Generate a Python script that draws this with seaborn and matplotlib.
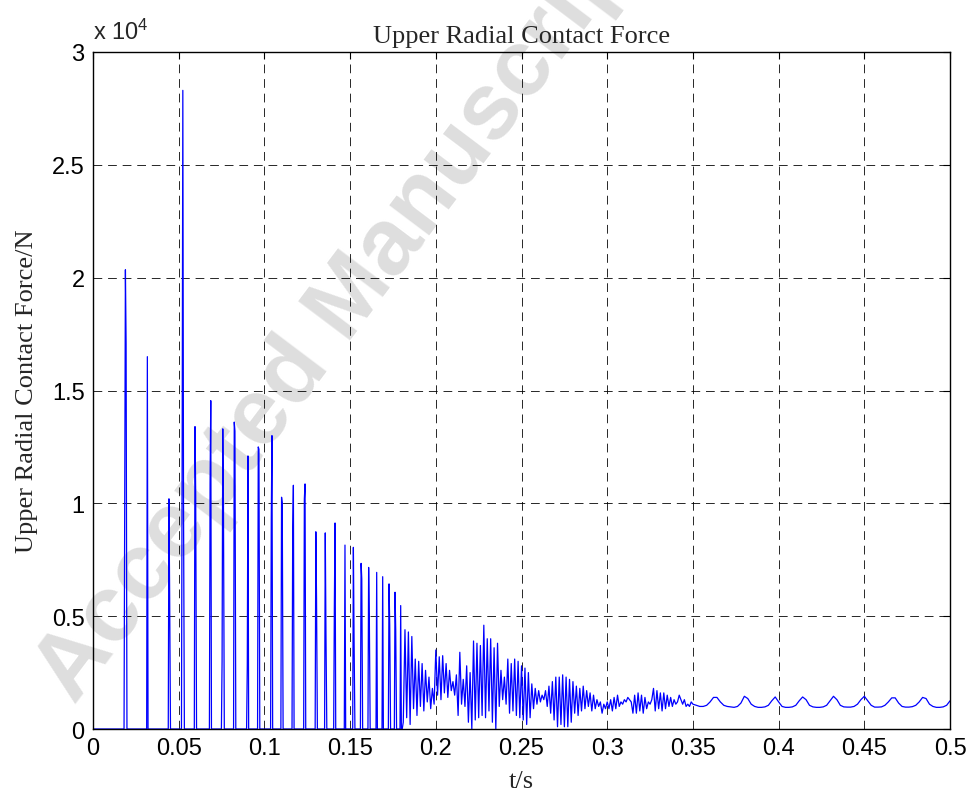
import numpy as np
import pandas as pd
import matplotlib
matplotlib.use("Agg")
import matplotlib.pyplot as plt
import seaborn as sns

# --- isolated contact pulses (t in s, force in N) ---
pulse_t = [0.0189, 0.0317, 0.0443, 0.0524, 0.0595, 0.0687, 0.0757, 0.0824,
           0.0904, 0.0964, 0.1044, 0.1100, 0.1169, 0.1237, 0.1300, 0.1355,
           0.1412, 0.1470, 0.1519, 0.1564, 0.1608, 0.1655, 0.1690, 0.1727,
           0.1762, 0.1795]
pulse_peak = [20350, 16500, 10200, 28300, 13400, 14550, 13300, 13600,
              12100, 12500, 13000, 10270, 10800, 10860, 8740, 8690,
              9130, 8150, 8050, 7340, 7160, 6940, 6750, 6430,
              6060, 5470]
pulse_rise = [10400, 0, 0, 12100, 0, 10900, 3000, 0,
              2800, 0, 9300, 0, 8800, 10200, 0, 0,
              5400, 0, 0, 0, 0, 0, 0, 0,
              0, 0]
pulse_fall = [17100, 0, 6000, 10000, 10400, 0, 9900, 13200,
              0, 12400, 0, 10000, 0, 0, 5800, 4300,
              0, 0, 4000, 6650, 5000, 0, 0, 4600,
              4400, 0]

# --- dense oscillation 0.181 s .. 0.300 s (1 ms samples), N ---
osc_F = [300, 4400, 500, 4300, 200, 4100, 900, 3100, 600, 3000,
         1000, 2900, 800, 2600, 1200, 2300, 900, 1800, 1100, 3500,
         1500, 3200, 1300, 3250, 1600, 2900, 1400, 2600, 1700, 2100,
         1500, 2400, 600, 3400, 1100, 2200, 1000, 2800, 300, 2500,
         0, 3900, 400, 3800, 500, 3700, 600, 4600, 500, 4000,
         800, 4000, 300, 3600, 0, 3800, 1000, 2600, 1300, 2300,
         1100, 3100, 700, 2900, 800, 3100, 600, 3000, 500, 2800,
         400, 2700, 200, 2500, 500, 2000, 900, 1800, 1100, 1700,
         1200, 1500, 1300, 1700, 1000, 1900, 700, 2100, 400, 2300,
         100, 2300, 200, 2400, 100, 2300, 100, 2200, 300, 2100,
         700, 1900, 600, 1800, 800, 1900, 900, 1700, 1000, 1600,
         800, 1500, 900, 1300, 1000, 1200, 700, 1100, 900, 1200]

# --- settling 0.301 s .. 0.350 s (1 ms samples), N ---
settle_F = [900, 1300, 800, 1400, 900, 1500, 1000, 1200, 1100, 1300,
            1200, 1400, 1300, 1200, 700, 1500, 700, 1600, 800, 1500,
            700, 1400, 900, 1200, 1100, 1300, 1800, 800, 1700, 900,
            1600, 800, 1600, 900, 1500, 1000, 1400, 1000, 1300, 1100,
            1200, 1500, 1300, 1100, 1300, 1000, 1100, 1000, 1200, 1100]

# --- steady ripple 0.352 s .. 0.500 s (2 ms samples), N ---
steady_F = [1050, 1000, 1000, 1050, 1200, 1400, 1400, 1200, 1050, 1000,
            980, 960, 1000, 1150, 1450, 1350, 1100, 1000, 960, 960,
            980, 1050, 1250, 1420, 1200, 1000, 960, 960, 980, 1050,
            1250, 1420, 1300, 1050, 980, 960, 960, 980, 1050, 1250,
            1450, 1300, 1050, 980, 970, 970, 1000, 1100, 1300, 1450,
            1250, 1050, 970, 970, 980, 1050, 1200, 1380, 1380, 1150,
            1000, 970, 970, 990, 1050, 1200, 1400, 1350, 1100, 1000,
            960, 960, 980, 1050, 1250]

# assemble the trace: zero baseline between the early pulses
t_all = [0.0]
f_all = [0.0]
for t, pk, r, fl in zip(pulse_t, pulse_peak, pulse_rise, pulse_fall):
    t_all += [t - 0.0008, t - 0.0004, t, t + 0.0004, t + 0.0009]
    f_all += [0, r, pk, fl, 0]
t_all += list(np.linspace(0.181, 0.300, len(osc_F)))
f_all += osc_F
t_all += list(np.linspace(0.301, 0.350, len(settle_F)))
f_all += settle_F
t_all += list(np.linspace(0.352, 0.500, len(steady_F)))
f_all += steady_F

df = pd.DataFrame({"t": t_all, "F": f_all})

sns.set_style("white")
plt.rcParams["font.family"] = ["Liberation Sans", "DejaVu Sans"]
plt.rcParams["mathtext.default"] = "regular"

fig = plt.figure(figsize=(9.75, 8.03), dpi=100)
ax = fig.add_axes([0.0954, 0.0909, 0.8790, 0.8431])
ax.set_facecolor("none")

sns.lineplot(data=df, x="t", y="F", ax=ax, color="#0000ff", lw=0.9,
             sort=False, estimator=None)

ax.set_xlim(0, 0.5)
ax.set_ylim(0, 30000)
xt = [0, 0.05, 0.1, 0.15, 0.2, 0.25, 0.3, 0.35, 0.4, 0.45, 0.5]
yt = [0, 5000, 10000, 15000, 20000, 25000, 30000]
ax.set_xticks(xt)
ax.set_xticklabels(["0", "0.05", "0.1", "0.15", "0.2", "0.25", "0.3",
                    "0.35", "0.4", "0.45", "0.5"])
ax.set_yticks(yt)
ax.set_yticklabels(["0", "0.5", "1", "1.5", "2", "2.5", "3"])
ax.tick_params(direction="in", length=5, width=0.8, labelsize=17,
               top=True, right=True, pad=6, colors="black")
ax.grid(True, color="black", lw=0.7, ls=(0, (9, 6)), alpha=0.85)
for s in ax.spines.values():
    s.set_color("black")
    s.set_linewidth(1.0)

serif = ["Liberation Serif", "DejaVu Serif"]
ax.set_title("Upper Radial Contact Force", family=serif, fontsize=19, pad=7)
ax.set_xlabel("t/s", family=serif, fontsize=19, labelpad=8)
ax.set_ylabel("Upper Radial Contact Force/N", family=serif, fontsize=19,
              labelpad=10)
ax.text(0.0, 1.012, r"x 10$^{4}$", transform=ax.transAxes, fontsize=17,
        ha="left", va="bottom")

# journal watermark, sitting behind the plot
fig.text(0.352, 0.615, "Accepted Manuscript", fontsize=68, fontweight="bold",
         color="#dedede", rotation=53, ha="center", va="center",
         rotation_mode="anchor", zorder=-1)

fig.savefig("out.png", dpi=100)
